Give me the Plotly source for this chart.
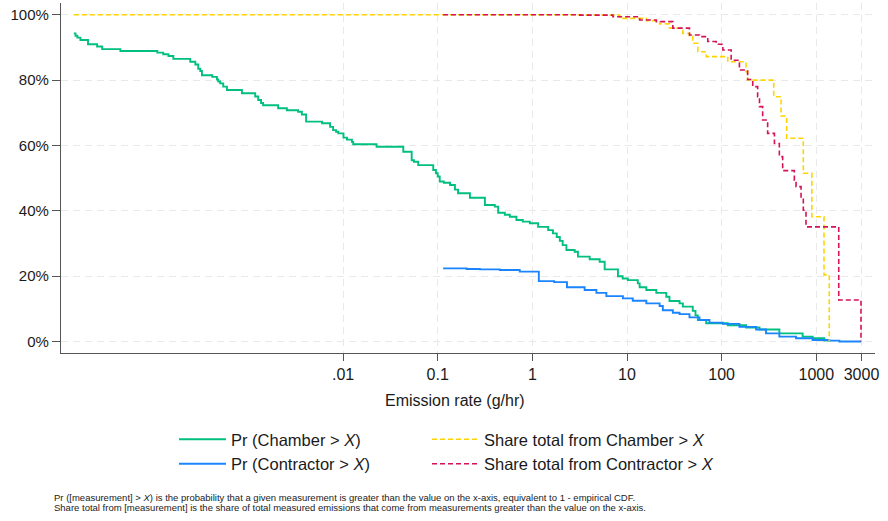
import plotly.graph_objects as go

# ---------------- data ----------------
# Pr(Chamber > X): emission rate (g/hr) and percent
chamber_pr_x = [1.43e-5, 1.49e-5, 1.56e-5, 1.68e-5, 2.02e-5, 2.52e-5, 2.85e-5, 4.44e-5,
                1.09e-4, 1.26e-4, 1.43e-4, 1.61e-4, 2.43e-4, 2.75e-4, 2.95e-4, 3.10e-4,
                3.23e-4, 4.15e-4, 4.65e-4, 4.80e-4, 5.04e-4, 5.42e-4, 5.93e-4, 8.54e-4,
                1.18e-3, 1.27e-3, 1.36e-3, 1.43e-3, 2.06e-3, 2.55e-3, 3.35e-3, 3.67e-3,
                4.07e-3, 6.00e-3, 7.29e-3, 7.85e-3, 8.44e-3, 8.92e-3, 0.0101, 0.0110,
                0.0124, 0.0128, 0.0226, 0.0433, 0.0531, 0.0561, 0.0622, 0.0897, 0.0957,
                0.100, 0.105, 0.116, 0.135, 0.152, 0.164, 0.219, 0.315, 0.401, 0.435,
                0.512, 0.578, 0.679, 0.792, 0.940, 1.15, 1.47, 1.65, 1.81, 1.95, 2.09,
                2.29, 2.80, 3.03, 4.03, 5.14, 5.81, 8.02, 8.99, 10.2, 13.0, 13.6, 16.0,
                20.4, 26.0, 28.1, 35.9, 38.9, 49.5, 52.9, 56.0, 68.6, 116, 181, 251,
                407, 717, 914, 1215, 1371]
chamber_pr_y = [94.3, 93.6, 93.0, 92.3, 91.0, 90.3, 89.5, 88.9,
                88.4, 87.9, 87.4, 86.5, 85.6, 84.8, 83.5, 82.8,
                81.5, 81.0, 80.2, 79.6, 79.0, 78.0, 77.0, 76.0,
                75.0, 73.9, 73.0, 72.3, 71.4, 70.8, 70.3, 69.5,
                67.3, 66.8, 65.7, 64.7, 64.2, 63.7, 62.4, 61.8,
                61.1, 60.4, 59.6, 58.1, 55.5, 55.0, 54.0, 52.5, 51.5,
                50.5, 49.0, 48.6, 47.9, 46.5, 45.4, 44.0, 41.8, 41.3, 39.4,
                38.8, 38.2, 37.2, 36.7, 36.2, 35.1, 34.1, 33.1, 32.0, 30.8, 29.5,
                28.0, 27.5, 26.0, 25.2, 24.4, 22.1, 20.0, 19.3, 18.8, 17.8, 16.6, 15.8,
                14.9, 13.7, 12.4, 11.7, 10.7, 9.4, 8.0, 6.6, 5.6, 5.0, 4.3, 3.7,
                2.5, 1.5, 1.0, 0.3, 0.0]

# Pr(Contractor > X)
contractor_pr_x = [0.114, 0.202, 0.279, 0.453, 0.736, 1.17, 1.70, 2.32, 3.57, 4.75,
                   6.05, 9.05, 11.5, 16.0, 22.1, 23.9, 30.5, 35.9, 45.7, 58.3, 74.3,
                   103, 154, 231, 294, 407, 611, 914, 1371, 1750, 2965]
contractor_pr_y = [22.4, 22.2, 22.1, 21.9, 21.4, 18.5, 18.2, 16.6, 15.8, 14.9,
                   13.9, 13.2, 12.5, 11.7, 10.9, 9.6, 8.8, 8.4, 7.4, 6.6, 5.8,
                   5.4, 4.5, 3.7, 2.5, 1.5, 1.0, 0.5, 0.3, 0.0, 0.0]

# Share total from Chamber > X
chamber_share_x = [1.43e-5, 0.94, 3.16, 8.36, 16.0, 22.1, 28.1, 38.9, 45.7, 49.5, 56.0,
                   68.6, 111, 116, 181, 188, 355, 424, 486, 729, 897, 1205, 1371]
chamber_share_y = [100.0, 100.0, 99.9, 98.9, 98.2, 97.2, 95.9, 94.3, 93.5, 91.3, 88.7,
                   87.2, 87.2, 85.6, 82.6, 80.0, 74.9, 69.0, 62.2, 51.5, 38.2, 20.4, 0.0]

# Share total from Contractor > X
contractor_share_x = [0.114, 3.16, 7.10, 13.6, 20.4, 30.5, 45.7, 58.3, 71.3, 87.5, 103,
                      126, 154, 188, 213, 240, 251, 271, 306, 361, 407, 441, 586, 611,
                      690, 729, 778, 1726, 2965]
contractor_share_y = [100.0, 99.9, 99.4, 98.4, 97.9, 95.9, 93.8, 93.3, 91.8, 91.0, 89.2,
                      86.1, 83.1, 80.2, 78.0, 74.9, 71.9, 67.8, 63.7, 60.6, 56.6, 52.3, 49.4, 47.4,
                      43.8, 40.2, 35.1, 12.7, 0.0]

x_tick_vals = [0.01, 0.1, 1, 10, 100, 1000, 3000]
x_tick_text = [".01", "0.1", "1", "10", "100", "1000", "3000"]
y_tick_vals = [0, 20, 40, 60, 80, 100]
y_tick_text = ["0%", "20%", "40%", "60%", "80%", "100%"]

footnote_lines = [
    "Pr ([measurement] > <i>X</i>) is the probability that a given measurement is greater than the value on the x-axis, equivalent to 1 - empirical CDF.",
    "Share total from [measurement] is the share of total measured emissions that come from measurements greater than the value on the x-axis.",
]

# ---------------- styling ----------------
GREEN = "#00bf7f"
BLUE = "#1a85ff"
YELLOW = "#ffd400"
RED = "#d41159"
FONT = "Liberation Sans, Arial, sans-serif"
GRID = "#e9e9e9"
AXIS = "#555555"

fig = go.Figure()
fig.add_trace(go.Scatter(x=chamber_pr_x, y=chamber_pr_y, mode="lines", line_shape="hv",
                         line=dict(color=GREEN, width=1.9),
                         name="Pr (Chamber > <i>X</i>)", legend="legend"))
fig.add_trace(go.Scatter(x=contractor_pr_x, y=contractor_pr_y, mode="lines", line_shape="hv",
                         line=dict(color=BLUE, width=1.9),
                         name="Pr (Contractor > <i>X</i>)", legend="legend"))
fig.add_trace(go.Scatter(x=chamber_share_x, y=chamber_share_y, mode="lines", line_shape="hv",
                         line=dict(color=YELLOW, width=1.6, dash="5px,3px"),
                         name="Share total from Chamber > <i>X</i>", legend="legend2"))
fig.add_trace(go.Scatter(x=contractor_share_x, y=contractor_share_y, mode="lines", line_shape="hv",
                         line=dict(color=RED, width=1.6, dash="5px,3px"),
                         name="Share total from Contractor > <i>X</i>", legend="legend2"))

legend_common = dict(font=dict(family=FONT, size=16.5, color="#1a1a1a"),
                     bgcolor="rgba(0,0,0,0)", borderwidth=0, orientation="v",
                     xref="container", yref="container", xanchor="left", yanchor="top",
                     itemwidth=47, tracegroupgap=0)

annotations = [
    dict(text="Emission rate (g/hr)", xref="paper", yref="paper",
         x=(455 - 61) / 814, y=(353 - 400) / 350, xanchor="center", yanchor="middle",
         showarrow=False, font=dict(family=FONT, size=16, color="#1a1a1a")),
]
for i, line in enumerate(footnote_lines):
    annotations.append(dict(text=line, xref="paper", yref="paper",
                            x=(52 - 61) / 814, y=(353 - (497 + 10 * i)) / 350,
                            xanchor="left", yanchor="middle", align="left", showarrow=False,
                            font=dict(family=FONT, size=9.5, color="#1a1a1a")))

fig.update_layout(
    width=888, height=521,
    margin=dict(l=61, r=13, t=3, b=168, autoexpand=False),
    paper_bgcolor="white", plot_bgcolor="white",
    font=dict(family=FONT, color="#1a1a1a"),
    showlegend=True,
    legend=dict(x=174 / 888, y=1 - 422 / 521, **legend_common),
    legend2=dict(x=427 / 888, y=1 - 422 / 521, **legend_common),
    xaxis=dict(
        type="log", range=[-4.98, 3.62],
        tickvals=x_tick_vals, ticktext=x_tick_text, tickangle=0,
        ticks="outside", ticklen=7, tickcolor=AXIS, tickwidth=1,
        tickfont=dict(family=FONT, size=16, color="#1a1a1a"),
        showline=True, linecolor=AXIS, linewidth=1.2,
        showgrid=True, gridcolor=GRID, griddash="7px,5px", gridwidth=1.2,
        zeroline=False,
    ),
    yaxis=dict(
        range=[-3.5, 103.6],
        tickvals=y_tick_vals, ticktext=y_tick_text,
        ticks="outside", ticklen=8, tickcolor=AXIS, tickwidth=1,
        tickfont=dict(family=FONT, size=15, color="#1a1a1a"),
        showline=True, linecolor=AXIS, linewidth=1.2,
        showgrid=True, gridcolor=GRID, griddash="7px,5px", gridwidth=1.2,
        zeroline=False,
    ),
    annotations=annotations,
)

fig.write_html("out.html", config={"displayModeBar": False},
               post_script="document.body.style.margin='0';")
